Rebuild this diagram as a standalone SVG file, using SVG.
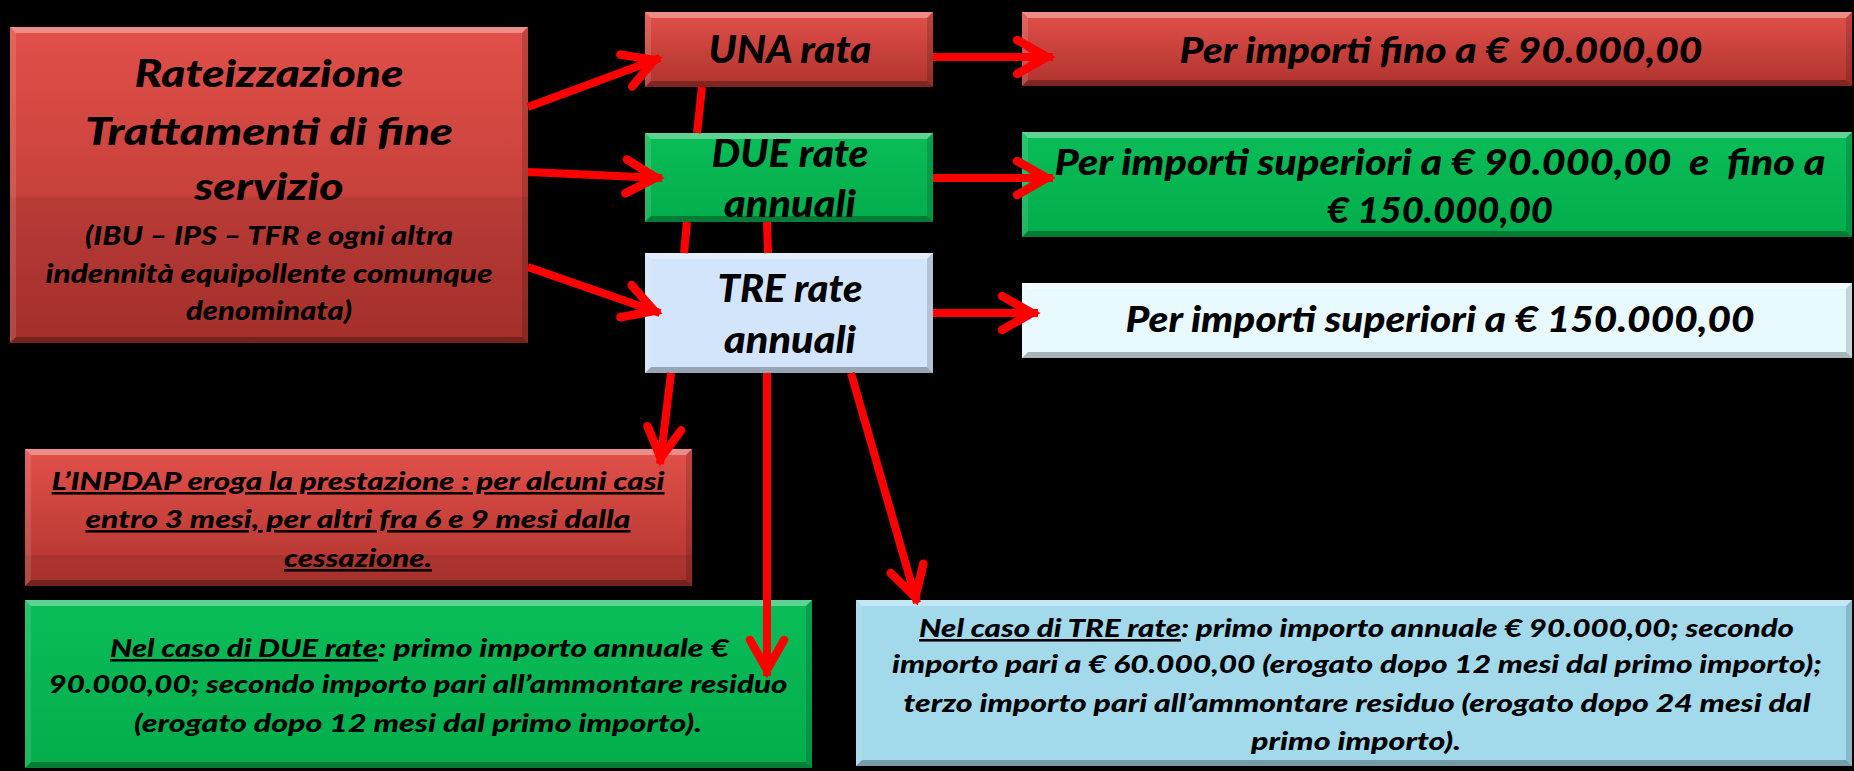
<svg xmlns="http://www.w3.org/2000/svg" width="1854" height="771" viewBox="0 0 1854 771">
  <defs>
    <linearGradient id="gRed" x1="0" y1="0" x2="0" y2="1">
      <stop offset="0" stop-color="#e2504a"/>
      <stop offset="1" stop-color="#b0332e"/>
    </linearGradient>
    <linearGradient id="gGreen" x1="0" y1="0" x2="0" y2="1">
      <stop offset="0" stop-color="#0abd58"/>
      <stop offset="1" stop-color="#03ad4c"/>
    </linearGradient>
    <marker id="head" markerUnits="userSpaceOnUse" orient="auto" refX="0" refY="0" markerWidth="60" markerHeight="60" viewBox="-50 -30 60 60" overflow="visible">
      <path d="M -36 -17 L -6 0 L -36 17" fill="none" stroke="#ff0000" stroke-width="8.5" stroke-linecap="round" stroke-linejoin="miter"/>
    </marker>
    <style>
      .red { fill: url(#gRed); }
      .green { fill: url(#gGreen); }
      .blue { fill: #d3e5fb; }
      .cyan { fill: #e8fafe; }
      .sky { fill: #a2d9eb; }
      .bt { fill: #ffffff; opacity: 0.35; }
      .bb { fill: #000000; opacity: 0.28; }
      .bl { fill: #ffffff; opacity: 0.12; }
      .br { fill: #000000; opacity: 0.15; }
      .shade { fill: #000000; opacity: 0.07; }
      .t { font-family: Lato, "Liberation Sans", sans-serif; font-weight: 900; font-style: italic; fill: #000000; }
      .c { text-anchor: middle; }
      .big { font-size: 37px; }
      .mid { font-size: 36px; }
      .small { font-size: 26px; }
      .note { font-size: 25.5px; }
      .u { text-decoration: underline; }
      .link { fill: none; stroke: #ff0000; stroke-width: 8; }
      .arrow { marker-end: url(#head); }
    </style>
  </defs>

  <rect x="0" y="0" width="1854" height="771" fill="#000000"/>

  <!-- main topic -->
  <g id="main">
    <rect class="red" x="10" y="27" width="518" height="316"/>
    <rect class="shade" x="10" y="197" width="518" height="146"/>
    <polygon class="bt" points="10,27 528,27 522,33 16,33"/>
    <polygon class="bb" points="10,343 528,343 522,337 16,337"/>
    <polygon class="bl" points="10,27 16,33 16,337 10,343"/>
    <polygon class="br" points="528,27 522,33 522,337 528,343"/>
    <text class="t c big" x="269" y="87" textLength="269" lengthAdjust="spacingAndGlyphs">Rateizzazione</text>
    <text class="t c big" x="269" y="145" textLength="368" lengthAdjust="spacingAndGlyphs">Trattamenti di fine</text>
    <text class="t c big" x="269" y="200" textLength="149" lengthAdjust="spacingAndGlyphs">servizio</text>
    <text class="t c small" x="269" y="245" textLength="368" lengthAdjust="spacingAndGlyphs">(IBU – IPS – TFR e ogni altra</text>
    <text class="t c small" x="269" y="283" textLength="447" lengthAdjust="spacingAndGlyphs">indennità equipollente comunque</text>
    <text class="t c small" x="269" y="320" textLength="166" lengthAdjust="spacingAndGlyphs">denominata)</text>
  </g>

  <g id="una">
    <rect class="red" x="645" y="12" width="288" height="75"/>
    <polygon class="bt" points="645,12 933,12 927,18 651,18"/>
    <polygon class="bb" points="645,87 933,87 927,81 651,81"/>
    <polygon class="bl" points="645,12 651,18 651,81 645,87"/>
    <polygon class="br" points="933,12 927,18 927,81 933,87"/>
    <text class="t c big" x="790" y="63" textLength="163" lengthAdjust="spacingAndGlyphs">UNA rata</text>
  </g>

  <g id="due">
    <rect class="green" x="645" y="133" width="288" height="89"/>
    <polygon class="bt" points="645,133 933,133 927,139 651,139"/>
    <polygon class="bb" points="645,222 933,222 927,216 651,216"/>
    <polygon class="bl" points="645,133 651,139 651,216 645,222"/>
    <polygon class="br" points="933,133 927,139 927,216 933,222"/>
    <text class="t c big" x="790" y="167" textLength="157" lengthAdjust="spacingAndGlyphs">DUE rate</text>
    <text class="t c big" x="790" y="217" textLength="132" lengthAdjust="spacingAndGlyphs">annuali</text>
  </g>

  <g id="tre">
    <rect class="blue" x="645" y="253" width="288" height="120"/>
    <polygon class="bt" points="645,253 933,253 927,259 651,259"/>
    <polygon class="bb" points="645,373 933,373 927,367 651,367"/>
    <polygon class="bl" points="645,253 651,259 651,367 645,373"/>
    <polygon class="br" points="933,253 927,259 927,367 933,373"/>
    <text class="t c big" x="790" y="302" textLength="145" lengthAdjust="spacingAndGlyphs">TRE rate</text>
    <text class="t c big" x="790" y="353" textLength="132" lengthAdjust="spacingAndGlyphs">annuali</text>
  </g>

  <g id="fino90">
    <rect class="red" x="1022" y="12" width="830" height="74"/>
    <polygon class="bt" points="1022,12 1852,12 1846,18 1028,18"/>
    <polygon class="bb" points="1022,86 1852,86 1846,80 1028,80"/>
    <polygon class="bl" points="1022,12 1028,18 1028,80 1022,86"/>
    <polygon class="br" points="1852,12 1846,18 1846,80 1852,86"/>
    <text class="t c mid" x="1441" y="63" textLength="523" lengthAdjust="spacingAndGlyphs">Per importi fino a € 90.000,00</text>
  </g>

  <g id="fino150">
    <rect class="green" x="1022" y="132" width="830" height="105"/>
    <polygon class="bt" points="1022,132 1852,132 1846,138 1028,138"/>
    <polygon class="bb" points="1022,237 1852,237 1846,231 1028,231"/>
    <polygon class="bl" points="1022,132 1028,138 1028,231 1022,237"/>
    <polygon class="br" points="1852,132 1846,138 1846,231 1852,237"/>
    <text class="t c mid" x="1440" y="175" textLength="771" lengthAdjust="spacingAndGlyphs" xml:space="preserve">Per importi superiori a € 90.000,00  e  fino a</text>
    <text class="t c mid" x="1440" y="223" textLength="226" lengthAdjust="spacingAndGlyphs">€ 150.000,00</text>
  </g>

  <g id="oltre150">
    <rect class="cyan" x="1022" y="283" width="830" height="75"/>
    <polygon class="bt" points="1022,283 1852,283 1846,289 1028,289"/>
    <polygon class="bb" points="1022,358 1852,358 1846,352 1028,352"/>
    <polygon class="bl" points="1022,283 1028,289 1028,352 1022,358"/>
    <polygon class="br" points="1852,283 1846,289 1846,352 1852,358"/>
    <text class="t c mid" x="1440" y="332" textLength="629" lengthAdjust="spacingAndGlyphs">Per importi superiori a € 150.000,00</text>
  </g>

  <g id="inpdap">
    <rect class="red" x="25" y="449" width="667" height="137"/>
    <rect class="shade" x="25" y="555" width="667" height="31"/>
    <polygon class="bt" points="25,449 692,449 686,455 31,455"/>
    <polygon class="bb" points="25,586 692,586 686,580 31,580"/>
    <polygon class="bl" points="25,449 31,455 31,580 25,586"/>
    <polygon class="br" points="692,449 686,455 686,580 692,586"/>
    <text class="t c note u" x="358" y="490" textLength="613" lengthAdjust="spacingAndGlyphs">L’INPDAP eroga la prestazione : per alcuni casi</text>
    <text class="t c note u" x="358" y="528" textLength="545" lengthAdjust="spacingAndGlyphs">entro 3 mesi, per altri fra 6 e 9 mesi dalla</text>
    <text class="t c note u" x="358" y="567" textLength="148" lengthAdjust="spacingAndGlyphs">cessazione.</text>
  </g>

  <g id="caso-due">
    <rect class="green" x="25" y="600" width="787" height="168"/>
    <polygon class="bt" points="25,600 812,600 806,606 31,606"/>
    <polygon class="bb" points="25,768 812,768 806,762 31,762"/>
    <polygon class="bl" points="25,600 31,606 31,762 25,768"/>
    <polygon class="br" points="812,600 806,606 806,762 812,768"/>
    <text class="t note u" x="110" y="657" textLength="268" lengthAdjust="spacingAndGlyphs">Nel caso di DUE rate</text>
    <text class="t note" x="378" y="657" textLength="351" lengthAdjust="spacingAndGlyphs">: primo importo annuale €</text>
    <text class="t c note" x="418" y="693" textLength="739" lengthAdjust="spacingAndGlyphs">90.000,00; secondo importo pari all’ammontare residuo</text>
    <text class="t c note" x="418" y="732" textLength="568" lengthAdjust="spacingAndGlyphs">(erogato dopo 12 mesi dal primo importo).</text>
  </g>

  <g id="caso-tre">
    <rect class="sky" x="856" y="600" width="996" height="166"/>
    <polygon class="bt" points="856,600 1852,600 1846,606 862,606"/>
    <polygon class="bb" points="856,766 1852,766 1846,760 862,760"/>
    <polygon class="bl" points="856,600 862,606 862,760 856,766"/>
    <polygon class="br" points="1852,600 1846,606 1846,760 1852,766"/>
    <text class="t note u" x="919" y="637" textLength="262" lengthAdjust="spacingAndGlyphs">Nel caso di TRE rate</text>
    <text class="t note" x="1181" y="637" textLength="613" lengthAdjust="spacingAndGlyphs">: primo importo annuale € 90.000,00; secondo</text>
    <text class="t c note" x="1357" y="673" textLength="930" lengthAdjust="spacingAndGlyphs">importo pari a € 60.000,00 (erogato dopo 12 mesi dal primo importo);</text>
    <text class="t c note" x="1357" y="712" textLength="907" lengthAdjust="spacingAndGlyphs">terzo importo pari all’ammontare residuo (erogato dopo 24 mesi dal</text>
    <text class="t c note" x="1356" y="750" textLength="210" lengthAdjust="spacingAndGlyphs">primo importo).</text>
  </g>

  <!-- connectors: drawn last so arrowheads sit over the boxes they reach;
       the long drops are split where they pass behind the middle boxes -->
  <g id="connectors">
    <line class="link arrow" x1="528" y1="107" x2="660" y2="58"/>
    <line class="link arrow" x1="528" y1="172" x2="662" y2="178"/>
    <line class="link arrow" x1="528" y1="267" x2="660" y2="313"/>
    <line class="link arrow" x1="933" y1="57" x2="1053" y2="57"/>
    <line class="link arrow" x1="933" y1="178" x2="1053" y2="178"/>
    <line class="link arrow" x1="933" y1="313" x2="1038" y2="313"/>
    <line class="link" x1="702" y1="87" x2="697" y2="133"/>
    <line class="link" x1="687" y1="222" x2="684" y2="253"/>
    <line class="link arrow" x1="671" y1="373" x2="660" y2="464"/>
    <line class="link" x1="767" y1="222" x2="768" y2="253"/>
    <line class="link arrow" x1="767" y1="373" x2="767" y2="676"/>
    <line class="link arrow" x1="851" y1="373" x2="917" y2="603"/>
  </g>
</svg>
